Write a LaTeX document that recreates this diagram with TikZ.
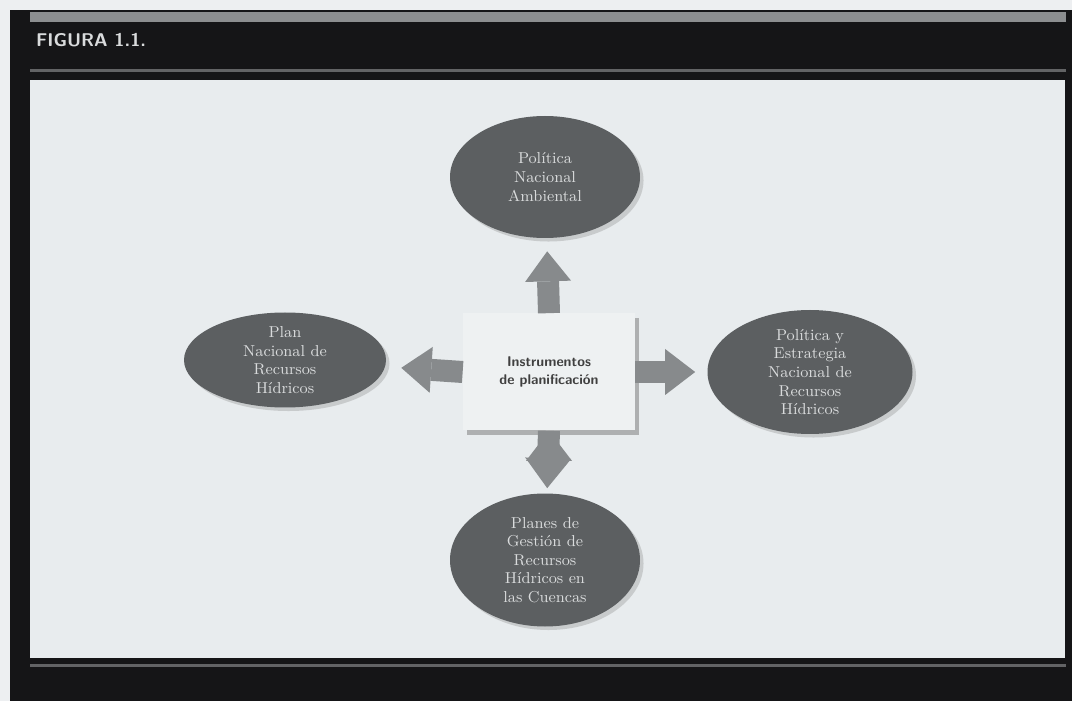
\documentclass[tikz,border=0pt]{standalone}
\usepackage[dvipsnames]{xcolor}
\usetikzlibrary{shapes.geometric,shadows,arrows.meta}

\definecolor{fondo}{HTML}{EDEFF1}
\definecolor{marco}{HTML}{151517}
\definecolor{franja}{HTML}{8C8E90}
\definecolor{panel}{HTML}{E8ECEE}
\definecolor{elipse}{HTML}{5C5F61}
\definecolor{letra}{HTML}{D9DBDC}
\definecolor{flecha}{HTML}{878A8C}
\definecolor{caja}{HTML}{EEF1F2}

\begin{document}
\begin{tikzpicture}[->,>={Triangle[width=0.92cm,length=0.6cm,line width=0pt,fill=flecha]},auto,node distance=3.9cm,main node/.style={ellipse,inner sep=0pt,fill=elipse,text=letra,align=center,font=\fontsize{9}{10.6}\selectfont,drop shadow={opacity=0.3,shadow xshift=2pt,shadow yshift=-2pt}},box node/.style={rectangle,fill=caja,text=black!75,align=center,minimum width=3.44cm,minimum height=2.34cm,font=\sffamily\bfseries\fontsize{8}{10}\selectfont,drop shadow={opacity=0.55,shadow xshift=2.5pt,shadow yshift=-2.5pt}}]
                        % marco de la figura
                        \useasboundingbox (0,0) rectangle (21.44,14.02);
                        \fill[fondo] (0,0) rectangle (21.44,14.02);
                        \fill[marco] (0.2,0) rectangle (21.44,13.82);
                        \fill[franja] (0.6,13.58) rectangle (21.32,13.78);
                        \fill[franja!70!black] (0.6,12.57) rectangle (21.32,12.63);
                        \fill[panel] (0.6,0.86) rectangle (21.3,12.42);
                        \fill[franja!70!black] (0.6,0.69) rectangle (21.32,0.75);
                        \node[anchor=west,text=letra,font=\sffamily\bfseries\fontsize{10.5}{12}\selectfont] (t) at (0.6,13.22) {FIGURA 1.1.};

                        \node[box node] (0) at (10.98,6.58) {Instrumentos\\de planificación};
                        \node[main node,minimum width=3.8cm,minimum height=2.44cm] (1) [above of = 0, xshift = -0.08cm]{Política\\Nacional\\Ambiental};
                        \node[main node,minimum width=4.04cm,minimum height=1.9cm] (2) [left of = 0, xshift = -1.38cm, yshift = 0.24cm]{Plan\\Nacional de\\Recursos\\Hídricos};
                        \node[main node,minimum width=4.1cm,minimum height=2.48cm] (3) [right of = 0, xshift = 1.32cm]{Política y\\Estrategia\\Nacional de\\Recursos\\Hídricos};
                        \node[main node,minimum width=3.8cm,minimum height=2.66cm] (4) [below of = 0, xshift = -0.08cm, yshift = 0.14cm]{Planes de\\Gestión de\\Recursos\\Hídricos en\\las Cuencas};

                        \path[draw=flecha,line width=0.44cm]
                                (0.north) edge [shorten >=0.26cm] (1)
                                (0.west)  edge [shorten >=0.32cm] (2)
                                (0.east)  edge [shorten >=0.24cm] (3)
                                (0.south) edge [shorten >=0.1cm]  (4)
                            ;
                    \end{tikzpicture}
\end{document}
